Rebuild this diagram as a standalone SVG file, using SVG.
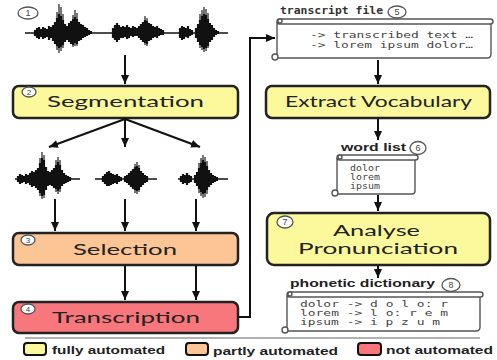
<svg xmlns="http://www.w3.org/2000/svg" width="497" height="360" viewBox="0 0 497 360">
<style>
.box{stroke:#222;stroke-width:2.5}
.yel{fill:#fbf99c}
.pch{fill:#fbc596}
.red{fill:#f7777c}
.lbl{font-family:Lato,"Liberation Sans",sans-serif;font-size:15px;fill:#222}
.num{fill:#fff;stroke:#555;stroke-width:1.3}
.numt{font-family:"Liberation Sans",sans-serif;font-size:9px;fill:#444;text-anchor:middle}
.wave{fill:none;stroke:#111;stroke-width:2.2}
.wg{fill:none;stroke:#777;stroke-width:2}
.base{fill:none;stroke:#111;stroke-width:1.4}
.con{fill:none;stroke:#111;stroke-width:2}
.scroll{fill:#fff;stroke:#555;stroke-width:1.4}
.mono{font-family:"DejaVu Sans Mono","Liberation Mono",monospace;font-size:8.5px;fill:#444}
.ttl{font-family:"Liberation Sans",sans-serif;font-weight:bold;font-size:11px;fill:#222}
.leg{font-family:"Liberation Sans",sans-serif;font-weight:bold;font-size:11px;fill:#222}
</style>
<defs>
<marker id="ah" markerUnits="userSpaceOnUse" markerWidth="10" markerHeight="9" refX="9" refY="4" orient="auto">
<path d="M0,0 L9,4 L0,8 z" fill="#111"/>
</marker>
</defs>

<g id="waveform-main">
<path class="base" d="M25 33H228"/>
<path class="wg" d="M57 12V50M59 4V53M61 7V51M63 14V48M73 15V47M75 10V46M77 13V46M145 16V45M147 18V46M200 14V48M202 10V50M204 7V52M206 9V51M208 13V48"/>
<path class="wave" d="M35 30V36M37 28V38M39 27V39M41 29V37M43 27V39M45 28V38M47 29V37M49 26V40M51 27V38M53 25V41M55 22V44M57 18V46M59 14V48M61 16V47M63 20V45M65 24V42M67 26V40M69 23V42M71 21V44M73 19V45M75 17V43M77 19V44M79 22V41M81 24V40M83 25V38M85 27V37M87 28V36M89 30V35M91 31V34M113 28V38M115 25V40M117 23V42M119 25V40M121 27V38M123 26V38M125 27V37M127 25V39M129 27V38M131 28V36M133 26V37M135 27V36M137 28V36M139 26V38M141 24V40M143 22V42M145 20V43M147 21V44M149 23V41M151 24V40M153 26V38M155 27V37M157 26V38M159 28V36M161 29V35M163 30V35M180 28V38M182 26V40M184 27V39M186 28V37M188 26V38M190 29V36M192 30V35M196 28V38M198 24V42M200 20V45M202 16V47M204 14V49M206 15V48M208 19V46M210 23V42M212 25V40M214 28V37M216 30V35M218 31V34"/>
<ellipse class="num" cx="28" cy="13" rx="10" ry="6"/>
<text class="numt" x="28" y="16">1</text>
</g>

<g id="waveform-seg1">
<path class="base" d="M15 179H80"/>
<path class="wg" d="M40 158V196M42 152V199M44 155V198M56 160V192M58 157V194M60 160V192"/>
<path class="wave" d="M18 176V182M20 174V184M22 175V183M24 176V182M26 174V184M28 175V183M30 173V185M32 171V187M34 172V186M36 170V188M38 168V190M40 163V193M42 158V196M44 160V195M46 167V190M48 171V186M50 172V185M52 170V186M54 168V188M56 165V189M58 162V191M60 165V189M62 170V186M64 173V184M66 175V183M68 176V182M70 177V181"/>
</g>
<g id="waveform-seg2">
<path class="base" d="M95 179H157"/>
<path class="wg" d="M135 164V193M137 162V194M139 165V192"/>
<path class="wave" d="M103 176V182M105 174V184M107 172V186M109 171V186M111 173V185M113 174V184M115 175V183M117 174V184M119 176V182M121 177V181M125 176V182M127 175V183M129 173V185M131 171V187M133 169V189M135 167V190M137 166V191M139 168V190M141 171V187M143 173V185M145 175V183M147 176V182"/>
</g>
<g id="waveform-seg3">
<path class="base" d="M178 179H228"/>
<path class="wg" d="M199 163V193M201 158V196M203 155V198M205 157V197M207 161V194"/>
<path class="wave" d="M181 176V182M183 174V184M185 175V183M187 173V185M189 175V183M191 176V182M195 175V183M197 172V186M199 168V189M201 163V192M203 160V194M205 162V193M207 166V190M209 170V187M211 173V185M213 175V183M215 176V182M217 177V181"/>
</g>

<g id="segmentation">
<rect class="box yel" x="13" y="86" width="225" height="32" rx="6"/>
<ellipse class="num" cx="29" cy="92" rx="7" ry="5"/>
<text class="numt" x="29" y="95" style="font-size:8px">2</text>
<text class="lbl" x="47" y="107" textLength="157" lengthAdjust="spacingAndGlyphs">Segmentation</text>
</g>

<g id="selection">
<rect class="box pch" x="13" y="233" width="225" height="32" rx="6"/>
<ellipse class="num" cx="28" cy="240" rx="7" ry="5"/>
<text class="numt" x="28" y="243" style="font-size:8px">3</text>
<text class="lbl" x="73" y="255" textLength="104" lengthAdjust="spacingAndGlyphs">Selection</text>
</g>

<g id="transcription">
<rect class="box red" x="13" y="302" width="225" height="31" rx="6"/>
<ellipse class="num" cx="28" cy="309" rx="7" ry="5"/>
<text class="numt" x="28" y="312" style="font-size:8px">4</text>
<text class="lbl" x="52" y="323" textLength="148" lengthAdjust="spacingAndGlyphs">Transcription</text>
</g>

<g id="transcript-file">
<text class="ttl" x="280" y="14" textLength="103" lengthAdjust="spacingAndGlyphs" style="font-family:'DejaVu Sans Mono',monospace;font-size:10px;fill:#333">transcript file</text>
<ellipse class="num" cx="397" cy="12" rx="9" ry="6"/>
<text class="numt" x="397" y="15">5</text>
<path class="scroll" d="M277 22V58H487Q491 58 491 54V22"/>
<rect class="scroll" x="277" y="19" width="216" height="5" rx="2.5"/>
<circle class="scroll" cx="280" cy="21" r="2"/>
<circle class="scroll" cx="275" cy="57" r="3"/>
<text class="mono" x="310" y="38" textLength="163" lengthAdjust="spacingAndGlyphs">-&gt; transcribed text …</text>
<text class="mono" x="310" y="48" textLength="163" lengthAdjust="spacingAndGlyphs">-&gt; lorem ipsum dolor…</text>
</g>

<g id="extract-vocabulary">
<rect class="box yel" x="266" y="86" width="224" height="32" rx="6"/>
<text class="lbl" x="285" y="107" textLength="187" lengthAdjust="spacingAndGlyphs">Extract Vocabulary</text>
</g>

<g id="word-list">
<text class="ttl" x="341" y="151" textLength="65" lengthAdjust="spacingAndGlyphs">word list</text>
<ellipse class="num" cx="418" cy="148" rx="8" ry="6.5"/>
<text class="numt" x="418" y="151">6</text>
<path class="scroll" d="M337 158V194H412Q415 194 415 191V158"/>
<rect class="scroll" x="337" y="155" width="81" height="5" rx="2.5"/>
<circle class="scroll" cx="340" cy="157" r="2"/>
<circle class="scroll" cx="335" cy="193" r="3"/>
<text class="mono" x="350" y="171" textLength="30" lengthAdjust="spacingAndGlyphs">dolor</text>
<text class="mono" x="350" y="180" textLength="30" lengthAdjust="spacingAndGlyphs">lorem</text>
<text class="mono" x="350" y="189" textLength="30" lengthAdjust="spacingAndGlyphs">ipsum</text>
</g>

<g id="analyse-pronunciation">
<rect class="box yel" x="267" y="213" width="223" height="52" rx="7"/>
<ellipse class="num" cx="285" cy="222" rx="8" ry="6"/>
<text class="numt" x="285" y="225">7</text>
<text class="lbl" x="333" y="236" textLength="87" lengthAdjust="spacingAndGlyphs">Analyse</text>
<text class="lbl" x="298" y="254" textLength="160" lengthAdjust="spacingAndGlyphs">Pronunciation</text>
</g>

<g id="phonetic-dictionary">
<text class="ttl" x="290" y="287" textLength="145" lengthAdjust="spacingAndGlyphs">phonetic dictionary</text>
<ellipse class="num" cx="451" cy="285" rx="9" ry="6.5"/>
<text class="numt" x="451" y="288">8</text>
<path class="scroll" d="M287 296V331H476Q480 331 480 327V296"/>
<rect class="scroll" x="287" y="292" width="196" height="5" rx="2.5"/>
<circle class="scroll" cx="290" cy="294" r="2"/>
<circle class="scroll" cx="285" cy="330" r="3"/>
<text class="mono" x="300" y="307" textLength="148" lengthAdjust="spacingAndGlyphs">dolor -&gt; d o l o: r</text>
<text class="mono" x="300" y="316" textLength="148" lengthAdjust="spacingAndGlyphs">lorem -&gt; l o: r e m</text>
<text class="mono" x="300" y="325" textLength="140" lengthAdjust="spacingAndGlyphs">ipsum -&gt; i p z u m</text>
</g>

<g id="connectors">
<path class="con" d="M125 55V84" marker-end="url(#ah)"/>
<path class="con" d="M125 119L49 147" marker-end="url(#ah)"/>
<path class="con" d="M125 119V147" marker-end="url(#ah)"/>
<path class="con" d="M125 119L200 147" marker-end="url(#ah)"/>
<path class="con" d="M55 199V231" marker-end="url(#ah)"/>
<path class="con" d="M125 199V231" marker-end="url(#ah)"/>
<path class="con" d="M196 199V231" marker-end="url(#ah)"/>
<path class="con" d="M125 266V300" marker-end="url(#ah)"/>
<path class="con" d="M196 266V300" marker-end="url(#ah)"/>
<path class="con" d="M239 317H250V38H275" marker-end="url(#ah)"/>
<path class="con" d="M378 60V84" marker-end="url(#ah)"/>
<path class="con" d="M378 119V140" marker-end="url(#ah)"/>
<path class="con" d="M378 195V211" marker-end="url(#ah)"/>
<path class="con" d="M378 266V278" marker-end="url(#ah)"/>
</g>

<g id="legend">
<path d="M25 338H480" stroke="#999" stroke-width="1.5"/>
<rect class="yel" x="24" y="343" width="22" height="12" rx="3" stroke="#111" stroke-width="2"/>
<text class="leg" x="52" y="354" textLength="113" lengthAdjust="spacingAndGlyphs">fully automated</text>
<rect class="pch" x="186" y="343" width="22" height="12" rx="3" stroke="#111" stroke-width="2"/>
<text class="leg" x="213" y="355" textLength="125" lengthAdjust="spacingAndGlyphs">partly automated</text>
<rect class="red" x="358" y="343" width="23" height="12" rx="3" stroke="#111" stroke-width="2"/>
<text class="leg" x="386" y="354" textLength="107" lengthAdjust="spacingAndGlyphs">not automated</text>
</g>
</svg>
